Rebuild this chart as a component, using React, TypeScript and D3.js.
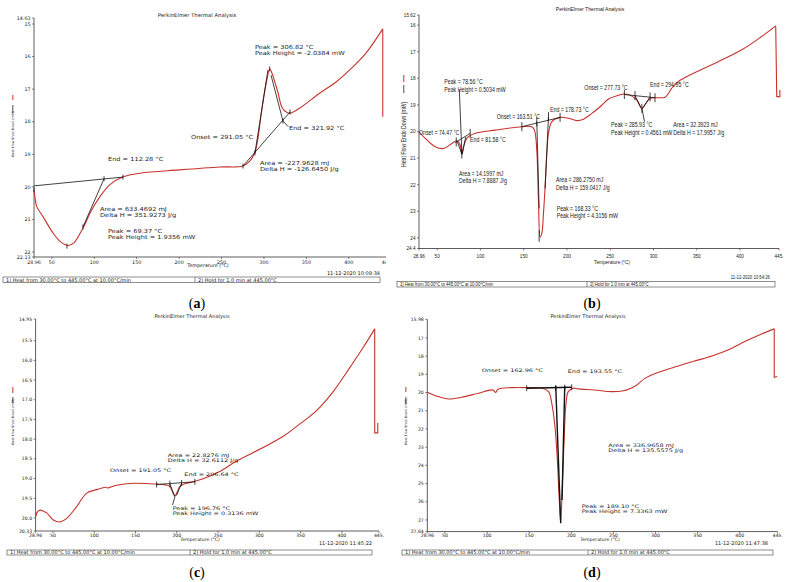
import React, { useRef, useEffect } from 'react'
import * as d3 from 'd3'

// ---------- thermogram readings: temperature (°C) / heat flow (mW) ----------
// (a)
const tempA = [28.96, 30, 32.1, 39.9, 51.7, 60, 69.4, 76, 83.2, 89, 95, 106.7, 118.5, 134.2, 154, 200, 248, 275, 283, 289, 293, 296, 300, 303.5, 306.8, 310, 313, 316, 321, 325, 330, 340, 366, 385, 401, 420, 440]
const flowA = [20.09, 20.3, 20.6, 20.93, 21.43, 21.68, 21.8, 21.72, 21.43, 21.15, 20.8, 20.3, 19.93, 19.69, 19.58, 19.48, 19.39, 19.36, 19.22, 18.96, 18.5, 17.9, 17.2, 16.7, 16.38, 16.55, 16.8, 17.05, 17.55, 17.68, 17.74, 17.62, 17.12, 16.78, 16.41, 15.9, 15.15]
const tailTempA = [440, 440]
const tailFlowA = [15.15, 17.85]

// (b)
const tempB = [28.96, 36.2, 47.7, 57.3, 66.9, 72.7, 76.5, 78.5, 80.4, 84.2, 93.9, 117, 147.8, 159.3, 162.4, 165.1, 167, 169, 170.9, 172.8, 174.7, 176.7, 178.6, 182.5, 192.1, 201.7, 211.4, 219, 228.7, 238.3, 248, 257.6, 266.5, 275, 280.7, 286.5, 291.1, 296.1, 303.8, 313.4, 321.1, 328.8, 348.1, 371.2, 402, 425, 441.2]
const flowB = [20.01, 20.26, 20.57, 20.64, 20.45, 20.35, 20.51, 20.85, 20.57, 20.26, 20.07, 19.95, 19.82, 19.82, 19.95, 20.7, 22.58, 23.97, 23.83, 23.08, 22.08, 20.82, 20.07, 19.63, 19.47, 19.5, 19.59, 19.54, 19.32, 19.07, 18.78, 18.66, 18.59, 18.67, 18.82, 19.13, 18.94, 18.76, 18.73, 18.71, 18.37, 18.12, 17.78, 17.43, 16.93, 16.43, 16.03]
const tailTempB = [441.2, 442.4, 446, 446]
const tailFlowB = [16.03, 18.69, 18.69, 18.44]

// (c)
const tempC = [28.96, 31, 34.3, 38, 42.4, 50.4, 58.5, 66.6, 78.7, 90.8, 102.9, 114, 116, 127, 147, 175.5, 186, 191.6, 194.5, 197.7, 200.5, 203.8, 210, 219.9, 236, 252, 272, 304, 328, 350, 370, 390, 410, 425, 439.8]
const flowC = [19.97, 19.85, 19.8, 19.82, 19.87, 20.05, 20.1, 20.01, 19.71, 19.37, 19.28, 19.22, 19.24, 19.17, 19.12, 19.14, 19.16, 19.2, 19.32, 19.44, 19.34, 19.2, 19.13, 19.08, 18.97, 18.82, 18.56, 18.22, 17.94, 17.6, 17.26, 16.78, 16.17, 15.7, 15.2]
const tailTempC = [439.8, 439.8, 443.5, 443.5]
const tailFlowC = [15.2, 17.84, 17.84, 17.59]

// (d)
const tempD = [28.96, 41.7, 53.8, 69.6, 89.5, 107, 110, 113, 129, 149, 165, 173, 176.7, 180.6, 183.4, 185.7, 187.4, 189, 191.3, 193.7, 196.4, 202.3, 208, 228, 248, 262, 268, 276, 287.5, 303, 327, 347, 367, 386, 406, 426, 441]
const flowD = [19.98, 20.22, 20.35, 20.26, 20.04, 19.86, 20.0, 19.82, 19.73, 19.73, 19.75, 19.95, 20.57, 21.87, 23.7, 25.9, 27.15, 25.53, 22.79, 20.59, 19.95, 19.76, 19.8, 19.86, 19.95, 19.9, 19.82, 19.64, 19.22, 18.9, 18.54, 18.26, 17.99, 17.66, 17.2, 16.78, 16.5]
const tailTempD = [441, 441, 444.5]
const tailFlowD = [16.5, 19.16, 19.12]

// axis ticks
const xTicks = [50, 100, 150, 200, 250, 300, 350, 400]
const xEndLabels = ['28.96', '445.']
const yTicksA = [15, 16, 17, 18, 19, 20, 21, 22]
const yTicksB = [16, 17, 18, 19, 20, 21, 22, 23, 24]
const yTicksC = [15.5, 16, 16.5, 17, 17.5, 18, 18.5, 19, 19.5, 20]
const yTicksD = [17, 18, 19, 20, 21, 22, 23, 24, 25, 26, 27]

// baselines / tangents / leaders drawn by the software, [t1, v1, t2, v2]
const guidesA = [
  [28.96, 19.97, 133.8, 19.7],
  [86.7, 21.23, 111.5, 19.75],
  [275.3, 19.36, 330.7, 17.7],
  [289.4, 18.96, 304.7, 16.41],
  [308.3, 16.57, 322.4, 17.98],
  [322.4, 17.98, 328.6, 18.15],
]
const marksA = [[28.96, 20.09], [67.8, 21.82], [86.7, 21.23], [111.5, 19.75], [133.8, 19.7], [275.3, 19.36], [289.4, 18.96], [306.8, 16.38], [322.4, 17.98], [330.7, 17.7]]

const guidesB = [
  [70.8, 20.42, 88.1, 20.07],
  [73, 20.36, 78.5, 20.85],
  [83, 20.2, 79, 20.85],
  [75.6, 18.44, 78.5, 20.85],
  [147.8, 19.82, 192, 19.47],
  [165.1, 19.63, 167.8, 22.89],
  [178.6, 19.44, 174.7, 22.14],
  [167.8, 23.71, 167.8, 24.15],
  [266.3, 18.61, 301.7, 18.73],
  [278.6, 18.65, 285.5, 19.1],
  [296, 18.7, 287, 19.15],
  [286.5, 19.13, 289.6, 19.63],
]
const marksB = [[72, 20.39], [78.5, 20.85], [88.1, 20.07], [147.8, 19.82], [165.1, 19.63], [178.6, 19.44], [192, 19.47], [266.3, 18.61], [278.6, 18.65], [296, 18.7], [301.7, 18.73], [286.5, 19.13]]

const guidesC = [
  [175.6, 19.15, 221.9, 19.08],
  [191.7, 19.14, 197.7, 19.46],
  [205.8, 19.12, 199.7, 19.43],
  [197.7, 19.46, 194.9, 19.67],
]
const marksC = [[175.6, 19.15], [191.7, 19.13], [205.8, 19.11], [221.9, 19.08]]

const guidesD = [
  [147, 19.76, 200.5, 19.71],
  [181.5, 19.64, 187.4, 27.18],
  [192.2, 19.64, 189, 25.9],
]
const marksD = [[147, 19.76], [181.5, 19.75], [192.2, 19.73], [200.5, 19.71]]

const DV = 'DejaVu Sans, sans-serif'
const LS = 'Liberation Sans, Arial, sans-serif'
const RED = '#c8322c'

type Font = { family: string; size: number; sx: number }

const addText = (g: any, x: number, y: number, s: string, f: Font, anchor = 'start') =>
  g
    .append('text')
    .attr('transform', `translate(${x},${y}) scale(${f.sx},1)`)
    .attr('font-family', f.family)
    .attr('font-size', f.size)
    .attr('text-anchor', anchor)
    .attr('fill', '#1a1a1a')
    .text(s)

const panels = [
  {
    id: 'a',
    temps: tempA, flows: flowA, tailT: tailTempA, tailF: tailFlowA,
    xRange: [34, 387], yDomain: [15, 22], yRange: [24, 252], yEnds: [18, 257], yEndLabels: ['14.63', '22.13'],
    yTicks: yTicksA, yFmt: (d: number) => String(d),
    guides: guidesA, marks: marksA, markH: 5, guideW: 0.8,
    tick: { family: DV, size: 4.8, sx: 1 }, note: { family: DV, size: 5.6, sx: 1.18 },
    title: [197, 16.5], xTitle: [208, 267], tickBase: 263.5,
    yTitle: { x: 14, y: 157, black: [105, 113], red: [95, 100], f: { family: DV, size: 3.3, sx: 1 } },
    footer: { box: [3, 380, 277, 282.5], div: 195, t1: 6, t2: 198, base: 281.5, stampX: 380, stampY: 275, one: '1)', two: '2)', f: { family: DV, size: 5, sx: 1 } },
    stamp: '11-12-2020 10:09:34', label: [197, 308], clip: 386,
    notes: [
      [255, 49, 'Peak = 306.82 °C'], [255, 54.9, 'Peak Height = -2.0384 mW'],
      [191, 139, 'Onset = 291.05 °C'], [289, 130, 'End = 321.92 °C'],
      [260, 165.3, 'Area = -227.9628 mJ'], [260, 171.2, 'Delta H = -126.6450 J/g'],
      [108, 161, 'End = 112.28 °C'],
      [100, 211.3, 'Area = 633.4692 mJ'], [100, 217.2, 'Delta H = 351.9273 J/g'],
      [108, 232.8, 'Peak = 69.37 °C'], [108, 238.7, 'Peak Height = 1.9356 mW'],
    ],
  },
  {
    id: 'b',
    temps: tempB, flows: flowB, tailT: tailTempB, tailF: tailFlowB,
    xRange: [419, 779], yDomain: [15.62, 24.4], yRange: [15, 248.5], yEnds: [15, 248.5], yEndLabels: ['15.62', '24.4'],
    yTicks: yTicksB, yFmt: (d: number) => String(d),
    guides: guidesB, marks: marksB, markH: 9, guideW: 0.8,
    tick: { family: LS, size: 5.5, sx: 0.85 }, note: { family: LS, size: 6.4, sx: 0.82 },
    title: [590, 11], xTitle: [612, 264], tickBase: 258,
    yTitle: { x: 406, y: 167, black: [85, 93], red: [75, 82], f: { family: LS, size: 6.3, sx: 0.82 } },
    footer: { box: [397, 775, 281.5, 287], div: 587, t1: 400, t2: 590, base: 286, stampX: 770, stampY: 279, one: '1]', two: '2]', f: { family: LS, size: 5.2, sx: 0.82 } },
    stamp: '11-12-2020 10:54:26', label: [592, 308], clip: 0,
    notes: [
      [444.3, 84, 'Peak = 78.56 °C'], [444.3, 91.6, 'Peak Height = 0.5034 mW'],
      [419, 135, 'Onset = 74.47 °C'], [470, 142.3, 'End = 81.58 °C'],
      [459, 175.6, 'Area = 14.1997 mJ'], [459, 183, 'Delta H = 7.8887 J/g'],
      [496.7, 119, 'Onset = 163.51 °C'], [550, 112.3, 'End = 178.73 °C'],
      [556, 182.3, 'Area = 286.2750 mJ'], [556, 189.6, 'Delta H = 159.0417 J/g'],
      [556.7, 210.6, 'Peak = 168.33 °C'], [556.7, 218.3, 'Peak Height = 4.3156 mW'],
      [584.3, 89.6, 'Onset = 277.73 °C'], [650, 87.3, 'End = 294.95 °C'],
      [611, 126.6, 'Peak = 285.93 °C'], [611, 134.6, 'Peak Height = 0.4561 mW'],
      [673.3, 126.6, 'Area = 32.3923 mJ'], [673.3, 134.6, 'Delta H = 17.9957 J/g'],
    ],
  },
  {
    id: 'c',
    temps: tempC, flows: flowC, tailT: tailTempC, tailF: tailFlowC,
    xRange: [35.6, 379], yDomain: [14.95, 20.33], yRange: [319, 531], yEnds: [319, 531], yEndLabels: ['14.95', '20.33'],
    yTicks: yTicksC, yFmt: (d: number) => d.toFixed(1),
    guides: guidesC, marks: marksC, markH: 6, guideW: 0.8,
    tick: { family: DV, size: 4.6, sx: 1 }, note: { family: DV, size: 4.8, sx: 1.35 },
    title: [192, 318], xTitle: [200, 540.5], tickBase: 537,
    yTitle: { x: 14, y: 445, black: [397, 403], red: [387, 393], f: { family: DV, size: 3.3, sx: 1 } },
    footer: { box: [7, 372, 550, 555], div: 190, t1: 10, t2: 193, base: 554, stampX: 372, stampY: 545, one: '1)', two: '2)', f: { family: DV, size: 5, sx: 1 } },
    stamp: '11-12-2020 11:45:22', label: [197, 577], clip: 0,
    notes: [
      [167.7, 456.6, 'Area = 22.8276 mJ'], [167.7, 461.8, 'Delta H = 32.6112 J/g'],
      [110, 472, 'Onset = 191.05 °C'], [184.3, 476, 'End = 206.64 °C'],
      [172.7, 510, 'Peak = 196.76 °C'], [172.7, 515.2, 'Peak Height = 0.3136 mW'],
    ],
  },
  {
    id: 'd',
    temps: tempD, flows: flowD, tailT: tailTempD, tailF: tailFlowD,
    xRange: [427.3, 777.6], yDomain: [15.98, 27.64], yRange: [319.4, 531.6], yEnds: [319.4, 531.6], yEndLabels: ['15.98', '27.64'],
    yTicks: yTicksD, yFmt: (d: number) => String(d),
    guides: guidesD, marks: marksD, markH: 6, guideW: 1.4,
    tick: { family: DV, size: 4.6, sx: 1 }, note: { family: DV, size: 4.8, sx: 1.35 },
    title: [588, 318], xTitle: [600, 540.5], tickBase: 537,
    yTitle: { x: 407, y: 445, black: [397, 404], red: [387, 392], f: { family: DV, size: 3.3, sx: 1 } },
    footer: { box: [402, 773, 550, 555], div: 588, t1: 405, t2: 591, base: 554, stampX: 768, stampY: 545, one: '1)', two: '2)', f: { family: DV, size: 5, sx: 1 } },
    stamp: '11-12-2020 11:47:38', label: [592, 577], clip: 0,
    notes: [
      [481.7, 371.5, 'Onset = 162.96 °C'], [567.7, 373, 'End = 193.55 °C'],
      [608.3, 447.2, 'Area = 336.9658 mJ'], [608.3, 452.4, 'Delta H = 135.5575 J/g'],
      [581.7, 507.6, 'Peak = 189.10 °C'], [581.7, 512.8, 'Peak Height = 7.3363 mW'],
    ],
  },
]

const drawPanel = (root: any, p: any) => {
  const g = root.append('g')
  if (p.clip) {
    root.append('clipPath').attr('id', `clip-${p.id}`).append('rect').attr('x', 0).attr('y', 0).attr('width', p.clip).attr('height', 300)
    g.attr('clip-path', `url(#clip-${p.id})`)
  }
  const x = d3.scaleLinear().domain([28.96, 445]).range(p.xRange)
  const y = d3.scaleLinear().domain(p.yDomain).range(p.yRange)
  const x0 = p.xRange[0]
  const [yTop, yBot] = p.yEnds

  addText(g, p.title[0], p.title[1], 'PerkinElmer Thermal Analysis', { ...p.tick, size: p.tick.size * 1.1 }, 'middle')

  // axes
  g.append('line').attr('x1', x0).attr('x2', x0).attr('y1', yTop).attr('y2', yBot).attr('stroke', '#333').attr('stroke-width', 0.8)
  g.append('line').attr('x1', x0).attr('x2', p.xRange[1]).attr('y1', yBot).attr('y2', yBot).attr('stroke', '#333').attr('stroke-width', 0.8)

  const yt = p.yTicks.map((v: number) => [y(v), p.yFmt(v)])
  yt.push([yTop, p.yEndLabels[0]], [yBot, p.yEndLabels[1]])
  yt.forEach(([py, s]: [number, string]) => {
    g.append('line').attr('x1', x0 - 2).attr('x2', x0).attr('y1', py).attr('y2', py).attr('stroke', '#333').attr('stroke-width', 0.6)
    addText(g, x0 - 3.5, py + p.tick.size * 0.35, s, p.tick, 'end')
  })
  const xt = xTicks.map((v) => [x(v), String(v)])
  xt.unshift([x(28.96), xEndLabels[0]])
  xt.push([x(445), xEndLabels[1]])
  xt.forEach(([px, s]: any) => {
    g.append('line').attr('x1', px).attr('x2', px).attr('y1', yBot).attr('y2', yBot + 2).attr('stroke', '#333').attr('stroke-width', 0.6)
    addText(g, px, p.tickBase, s, p.tick, 'middle')
  })
  addText(g, p.xTitle[0], p.xTitle[1], 'Temperature (°C)', p.tick, 'middle')

  // y axis title with legend swatches
  const yt2 = p.yTitle
  g.append('text')
    .attr('transform', `translate(${yt2.x},${yt2.y}) rotate(-90) scale(${yt2.f.sx},1)`)
    .attr('font-family', yt2.f.family)
    .attr('font-size', yt2.f.size)
    .attr('fill', '#1a1a1a')
    .text('Heat Flow Endo Down (mW)')
  const lx = yt2.x - yt2.f.size * 0.35
  g.append('line').attr('x1', lx).attr('x2', lx).attr('y1', yt2.black[0]).attr('y2', yt2.black[1]).attr('stroke', '#222').attr('stroke-width', 0.8)
  g.append('line').attr('x1', lx).attr('x2', lx).attr('y1', yt2.red[0]).attr('y2', yt2.red[1]).attr('stroke', RED).attr('stroke-width', 1)

  // curve
  const line = d3
    .line<[number, number]>()
    .x((d) => x(d[0]))
    .y((d) => y(d[1]))
  g.append('path')
    .datum(d3.zip(p.temps, p.flows) as [number, number][])
    .attr('fill', 'none')
    .attr('stroke', RED)
    .attr('stroke-width', 1.1)
    .attr('d', line.curve(d3.curveCatmullRom.alpha(0.5)))
  g.append('path')
    .datum(d3.zip(p.tailT, p.tailF) as [number, number][])
    .attr('fill', 'none')
    .attr('stroke', RED)
    .attr('stroke-width', 1.1)
    .attr('d', line.curve(d3.curveLinear))

  // guides and markers
  p.guides.forEach((l: number[]) => {
    g.append('line')
      .attr('x1', x(l[0])).attr('y1', y(l[1]))
      .attr('x2', x(l[2])).attr('y2', y(l[3]))
      .attr('stroke', '#111').attr('stroke-width', p.guideW)
  })
  p.marks.forEach((m: number[]) => {
    g.append('line')
      .attr('x1', x(m[0])).attr('x2', x(m[0]))
      .attr('y1', y(m[1]) - p.markH / 2).attr('y2', y(m[1]) + p.markH / 2)
      .attr('stroke', '#111').attr('stroke-width', 0.8)
  })
  p.notes.forEach((n: any) => addText(g, n[0], n[1], n[2], p.note))

  // method footer
  const f = p.footer
  g.append('rect')
    .attr('x', f.box[0]).attr('y', f.box[2])
    .attr('width', f.box[1] - f.box[0]).attr('height', f.box[3] - f.box[2])
    .attr('fill', 'none').attr('stroke', '#444').attr('stroke-width', 0.6)
  g.append('line').attr('x1', f.div).attr('x2', f.div).attr('y1', f.box[2]).attr('y2', f.box[3]).attr('stroke', '#444').attr('stroke-width', 0.6)
  addText(g, f.t1, f.base, `${f.one}  Heat from 30.00°C to 445.00°C at 10.00°C/min`, f.f)
  addText(g, f.t2, f.base, `${f.two}  Hold for 1.0 min at 445.00°C`, f.f)
  addText(g, f.stampX, f.stampY, p.stamp, f.f, 'end')

  // sub-figure label
  const lab = root.append('text')
    .attr('x', p.label[0]).attr('y', p.label[1])
    .attr('text-anchor', 'middle')
    .attr('font-family', 'Liberation Serif, DejaVu Serif, serif')
    .attr('font-size', 14)
    .attr('fill', '#000')
  lab.append('tspan').text('(')
  lab.append('tspan').attr('font-weight', 'bold').text(p.id)
  lab.append('tspan').text(')')
}

export default function App() {
  const ref = useRef<SVGSVGElement>(null)
  useEffect(() => {
    if (!ref.current) return
    const svg = d3.select(ref.current)
    svg.selectAll('*').remove()
    panels.forEach((p) => drawPanel(svg, p))
  }, [])
  return (
    <svg
      ref={ref}
      width={790}
      height={582}
      style={{ position: 'absolute', left: 0, top: 0, background: '#fff' }}
    />
  )
}
